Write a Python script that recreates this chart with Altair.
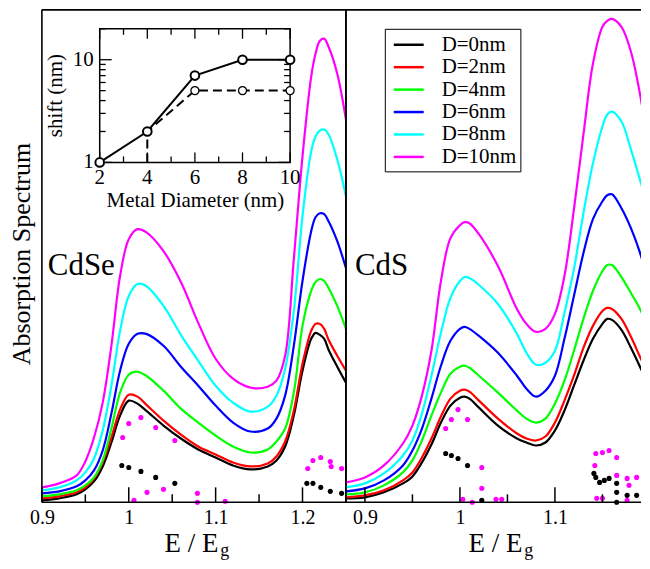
import altair as alt
import pandas as pd

FONT = "Liberation Serif, Times New Roman, serif"
SERIES = ["D=0nm", "D=2nm", "D=4nm", "D=6nm", "D=8nm", "D=10nm"]
COLORS = ["#000000", "#ff0000", "#00ff00", "#0000ff", "#00ffff", "#ff00ff"]

# ---------------- CdSe panel (absorption, arbitrary units) ----------------
E_CDSE = [0.90, 0.92, 0.94, 0.95, 0.96, 0.97, 0.98, 0.99, 1.00, 1.01, 1.02, 1.04, 1.06, 1.08,
          1.10, 1.12, 1.14, 1.16, 1.17, 1.18, 1.19, 1.20, 1.21, 1.215, 1.22, 1.225, 1.23, 1.24, 1.25]
cdse_d0 = [2, 4, 8, 13, 21, 36, 60, 87, 102, 99, 92, 77, 64, 53, 45, 37, 33, 36, 42, 56, 87, 132, 164, 170, 168, 164, 153, 136, 120]
cdse_d2 = [4, 6, 10, 15, 24, 40, 65, 93, 108, 106, 98, 82, 68, 56, 48, 40, 36, 39, 46, 61, 92, 139, 172, 179, 179, 174, 163, 147, 132]
cdse_d4 = [6, 8, 12, 17, 25, 42, 74, 110, 128, 131, 127, 112, 94, 80, 67, 56, 50, 53, 61, 74, 110, 177, 212, 221, 224, 222, 215, 197, 174]
cdse_d6 = [9, 11, 16, 22, 32, 52, 89, 132, 159, 169, 169, 157, 136, 117, 97, 80, 71, 74, 84, 107, 157, 222, 272, 286, 290, 289, 282, 262, 235]
cdse_d8 = [12, 15, 22, 30, 44, 72, 117, 172, 207, 219, 217, 197, 168, 142, 117, 100, 91, 96, 107, 134, 192, 287, 352, 367, 373, 374, 369, 344, 307]
cdse_d10 = [15, 19, 27, 41, 65, 100, 157, 227, 264, 274, 271, 252, 221, 180, 144, 124, 115, 116, 122, 147, 244, 347, 427, 450, 463, 465, 457, 430, 384]

cdse_dots0_E = [0.992, 1.000, 1.014, 1.031, 1.053, 1.205, 1.212, 1.221, 1.232, 1.245]
cdse_dots0_A = [37, 35, 31, 25, 19, 19, 19, 15, 11, 9]
cdse_dots10_E = [0.993, 1.000, 1.014, 1.031, 1.053, 1.006, 1.021, 1.040, 1.079, 1.079, 1.111,
                 1.206, 1.212, 1.221, 1.232, 1.233, 1.245]
cdse_dots10_A = [65, 79, 85, 75, 62, 2, 10, 13, 9, 0, 1, 34, 42, 45, 41, 36, 34]

# ---------------- CdS panel ----------------
E_CDS = [0.88, 0.90, 0.92, 0.94, 0.95, 0.96, 0.97, 0.98, 0.99, 1.00, 1.005, 1.01, 1.02, 1.04, 1.06,
         1.07, 1.08, 1.09, 1.10, 1.11, 1.12, 1.13, 1.14, 1.15, 1.155, 1.16, 1.17, 1.18, 1.19, 1.20]
cds_d0 = [4, 5, 10, 19, 26, 40, 58, 80, 97, 105, 106, 104, 95, 77, 64, 60, 57, 60, 72, 92, 117, 142, 164, 179, 184, 183, 173, 155, 135, 114]
cds_d2 = [5, 7, 12, 22, 30, 45, 64, 86, 104, 112, 113, 111, 102, 84, 69, 64, 62, 66, 80, 102, 127, 155, 177, 192, 195, 194, 184, 166, 145, 125]
cds_d4 = [8, 10, 17, 30, 42, 62, 87, 110, 129, 136, 137, 135, 127, 110, 92, 84, 80, 84, 99, 122, 152, 184, 212, 232, 238, 238, 226, 210, 193, 169]
cds_d6 = [11, 14, 22, 37, 52, 74, 104, 137, 162, 174, 176, 174, 167, 150, 127, 114, 106, 112, 127, 164, 207, 250, 284, 302, 308, 309, 295, 275, 249, 215]
cds_d8 = [15, 19, 29, 47, 62, 89, 127, 170, 205, 222, 226, 225, 218, 199, 169, 150, 138, 140, 152, 190, 234, 290, 340, 377, 389, 392, 382, 354, 322, 289]
cds_d10 = [20, 25, 37, 59, 77, 107, 152, 222, 265, 278, 281, 280, 269, 237, 194, 179, 171, 174, 189, 227, 294, 369, 440, 477, 483, 485, 477, 452, 407, 345]

cds_dots0_E = [0.985, 0.991, 0.998, 1.008, 1.023, 1.141, 1.143, 1.147, 1.152, 1.157, 1.165, 1.165, 1.165, 1.176, 1.186]
cds_dots0_A = [49, 47, 44, 37, 2, 29, 25, 20, 22, 24, 19, 10, 0, 7, 7]
cds_dots10_E = [0.985, 0.991, 0.998, 1.008, 1.023, 1.023, 1.003, 1.013, 1.038, 1.044, 1.143, 1.150, 1.157,
                1.165, 1.142, 1.165, 1.176, 1.186, 1.178, 1.176, 1.144, 1.150]
cds_dots10_A = [74, 83, 93, 83, 35, 14, 3, 0, 3, 3, 49, 50, 52, 45, 37, 27, 24, 25, 17, 2, 4, 4]

# ---------------- inset: shift vs metal diameter ----------------
metal_d = [2, 4, 6, 8, 10]
shift_solid = [1, 2, 7, 10, 10]
dash_d = [4, 4, 6, 8, 10]
shift_dash = [1, 2, 5, 5, 5]
dash_marker_d = [6, 8, 10]
dash_marker_shift = [5, 5, 5]

H = 494
W_L = 305
W_R = 296
ONE = pd.DataFrame({"k": [0]})


def long_df(E, curves):
    rows = []
    for name, vals in zip(SERIES, curves):
        for e, v in zip(E, vals):
            rows.append({"E": e, "A": v, "D": name})
    return pd.DataFrame(rows)


def text_layer(txt, x, y, size, align="center", baseline="middle", angle=0):
    return alt.Chart(pd.DataFrame({"t": [txt]})).mark_text(
        font=FONT, fontSize=size, align=align, baseline=baseline, angle=angle, color="black"
    ).encode(text="t:N", x=alt.value(x), y=alt.value(y))


def frame_rule(x, x2, y, y2):
    return alt.Chart(ONE).mark_rule(color="black", strokeWidth=1.6).encode(
        x=alt.value(x), x2=alt.value(x2), y=alt.value(y), y2=alt.value(y2))


def main_layer(E, curves, d0E, d0A, d10E, d10A, domain, major, minor, width, label, legend, right_border):
    xs = alt.Scale(domain=domain, nice=False, zero=False)
    ys = alt.Scale(domain=[0, H], nice=False, zero=False)
    df = long_df(E, curves)
    lines = alt.Chart(df).mark_line(strokeWidth=2.2, interpolate="catmull-rom", clip=True).encode(
        x=alt.X("E:Q", scale=xs, axis=alt.Axis(values=major, format="~g", ticks=False, domain=False,
                                               grid=False, labelFont=FONT, labelFontSize=20,
                                               labelColor="black", labelPadding=5, title=None,
                                               labelFlush=False, labelOverlap=False)),
        y=alt.Y("A:Q", scale=ys, axis=None),
        color=alt.Color("D:N", scale=alt.Scale(domain=SERIES, range=COLORS), legend=legend),
        detail="D:N",
    )
    dk = alt.Chart(pd.DataFrame({"E": d0E, "A": d0A})).mark_circle(size=26, opacity=1, color="black").encode(
        x=alt.X("E:Q", scale=xs), y=alt.Y("A:Q", scale=ys))
    dm = alt.Chart(pd.DataFrame({"E": d10E, "A": d10A})).mark_circle(size=26, opacity=1, color="#ff00ff").encode(
        x=alt.X("E:Q", scale=xs), y=alt.Y("A:Q", scale=ys))
    tmaj = alt.Chart(pd.DataFrame({"E": major})).mark_rule(color="black", strokeWidth=1.5).encode(
        x=alt.X("E:Q", scale=xs), y=alt.value(H), y2=alt.value(H - 15))
    tmin = alt.Chart(pd.DataFrame({"E": minor})).mark_rule(color="black", strokeWidth=1.5).encode(
        x=alt.X("E:Q", scale=xs), y=alt.value(H), y2=alt.value(H - 8))
    lab = text_layer(label, 6 if label == "CdSe" else 9, 257, 31, align="left")
    t1 = text_layer("E / E", 150, 544, 27, baseline="alphabetic")
    t2 = text_layer("g", 179, 548, 18, align="left", baseline="alphabetic")
    frames = [frame_rule(0, width, 0, 0), frame_rule(0, width, H, H), frame_rule(0, 0, 0, H)]
    if right_border:
        frames.append(frame_rule(width, width, 0, H))
    return alt.layer(lines, dk, dm, tmaj, tmin, lab, t1, t2, *frames)


def inset_layer():
    xi = alt.Scale(domain=[2, 10], range=[58, 249], nice=False, zero=False)
    yi = alt.Scale(type="log", domain=[1, 20], range=[153, 19], nice=False)

    def X(f):
        return alt.X(f, type="quantitative", scale=xi, axis=None)

    def Y(f):
        return alt.Y(f, type="quantitative", scale=yi, axis=None)

    frame = alt.Chart(pd.DataFrame({"x0": [2], "x1": [10], "y0": [1], "y1": [20]})).mark_rect(
        fill="white", stroke="black", strokeWidth=1.5).encode(
        x=X("x0"), x2=alt.X2("x1"), y=Y("y0"), y2=alt.Y2("y1"))
    xmaj = pd.DataFrame({"d": [2, 4, 6, 8, 10]})
    xmin = pd.DataFrame({"d": [3, 5, 7, 9]})
    ymaj = pd.DataFrame({"v": [1, 10]})
    ymin = pd.DataFrame({"v": [2, 3, 4, 5, 6, 7, 8, 9, 20]})
    rule = dict(color="black", strokeWidth=1.3)
    layers = [frame]
    for dfx, ln in ((xmaj, 10), (xmin, 6)):
        layers.append(alt.Chart(dfx).mark_rule(**rule).encode(x=X("d"), y=alt.value(153), y2=alt.value(153 - ln)))
        layers.append(alt.Chart(dfx).mark_rule(**rule).encode(x=X("d"), y=alt.value(19), y2=alt.value(19 + ln)))
    for dfy, ln in ((ymaj, 12), (ymin, 6)):
        layers.append(alt.Chart(dfy).mark_rule(**rule).encode(y=Y("v"), x=alt.value(58), x2=alt.value(58 + ln)))
        layers.append(alt.Chart(dfy).mark_rule(**rule).encode(y=Y("v"), x=alt.value(249), x2=alt.value(249 - ln)))
    layers.append(alt.Chart(xmaj).mark_text(font=FONT, fontSize=21, baseline="middle", color="black").encode(
        x=X("d"), y=alt.value(169), text="d:Q"))
    layers.append(alt.Chart(ymaj).mark_text(font=FONT, fontSize=21, baseline="middle", align="right",
                                            color="black").encode(x=alt.value(52), y=Y("v"), text="v:Q"))
    dash = alt.Chart(pd.DataFrame({"d": dash_d, "s": shift_dash, "o": list(range(len(dash_d)))})).mark_line(
        color="black", strokeWidth=2, strokeDash=[9, 5]).encode(x=X("d"), y=Y("s"), order="o:Q")
    solid = alt.Chart(pd.DataFrame({"d": metal_d, "s": shift_solid})).mark_line(
        color="black", strokeWidth=2).encode(x=X("d"), y=Y("s"))
    dpts = alt.Chart(pd.DataFrame({"d": dash_marker_d, "s": dash_marker_shift})).mark_point(
        shape="circle", filled=True, fill="white", stroke="black", strokeWidth=1.3, size=65, opacity=1).encode(
        x=X("d"), y=Y("s"))
    spts = alt.Chart(pd.DataFrame({"d": metal_d, "s": shift_solid})).mark_point(
        shape="circle", filled=True, fill="white", stroke="black", strokeWidth=2, size=75, opacity=1).encode(
        x=X("d"), y=Y("s"))
    layers += [dash, solid, dpts, spts]
    return alt.layer(*layers)


legend = alt.Legend(title=None, orient="none", legendX=39, legendY=19, symbolType="M-1.4,0H1.4",
                    symbolStrokeWidth=2.5, symbolSize=460, labelFont=FONT, labelFontSize=21,
                    labelColor="black", strokeColor="black", fillColor="white", padding=4,
                    rowPadding=0.5, labelOffset=21, symbolOffset=8)

left_main = main_layer(E_CDSE, [cdse_d0, cdse_d2, cdse_d4, cdse_d6, cdse_d8, cdse_d10],
                       cdse_dots0_E, cdse_dots0_A, cdse_dots10_E, cdse_dots10_A,
                       [0.9, 1.25], [0.9, 1.0, 1.1, 1.2], [0.95, 1.05, 1.15], W_L, "CdSe", None, True)
left_extra = alt.layer(
    left_main,
    text_layer("Absorption Spectrum", -20, 245, 26, angle=270),
    text_layer("shift (nm)", 14, 86, 21, angle=270),
    text_layer("Metal Diameter (nm)", 154, 192, 21),
)
left = alt.layer(left_extra, inset_layer()).resolve_scale(x="independent", y="independent").properties(
    width=W_L, height=H)

right = main_layer(E_CDS, [cds_d0, cds_d2, cds_d4, cds_d6, cds_d8, cds_d10],
                   cds_dots0_E, cds_dots0_A, cds_dots10_E, cds_dots10_A,
                   [0.88, 0.88 + W_R / 953.0], [0.9, 1.0, 1.1], [0.95, 1.05, 1.15], W_R, "CdS", legend,
                   False).properties(width=W_R, height=H)

chart = alt.hconcat(left, right, spacing=0, bounds="flush").resolve_scale(color="independent").configure_view(
    stroke=None).properties(padding={"left": 0, "top": 0, "right": 0, "bottom": 0})

chart.save("out.html", embed_options={"renderer": "svg", "actions": False})
